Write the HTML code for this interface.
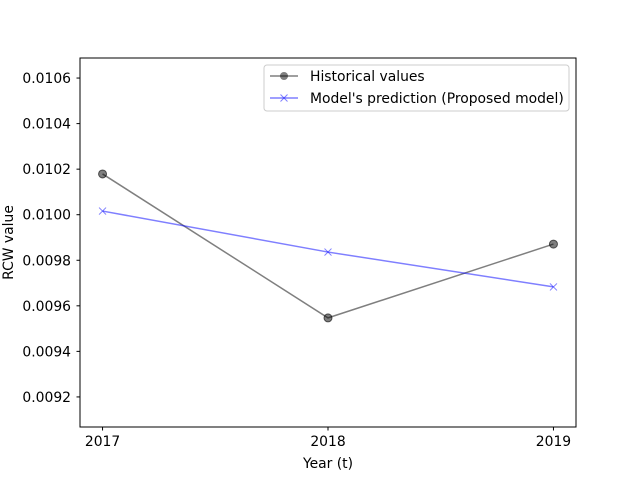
<!DOCTYPE html>
<html><head><meta charset="utf-8"><style>body{margin:0;background:#fff}svg text{font-family:"DejaVu Sans","Liberation Sans",sans-serif;font-size:13.9px}</style></head>
<body>
<svg id="c" width="640" height="480" xmlns="http://www.w3.org/2000/svg"></svg>
<script>
const years = [2017, 2018, 2019];
const historical = [0.010179, 0.009547, 0.009871];
const predicted = [0.010016, 0.009836, 0.009683];
const yTicks = [0.0092, 0.0094, 0.0096, 0.0098, 0.0100, 0.0102, 0.0104, 0.0106];
const yTickLabels = ["0.0092","0.0094","0.0096","0.0098","0.0100","0.0102","0.0104","0.0106"];
const xTickLabels = ["2017","2018","2019"];

const L=80,R=576,T=58,B=427;
const x0=2016.9,x1=2019.1,y0=0.009068,y1=0.010688;
const sx=v=>L+(v-x0)/(x1-x0)*(R-L);
const sy=v=>B-(v-y0)/(y1-y0)*(B-T);
const svg=document.getElementById('c');
const NS='http://www.w3.org/2000/svg';
function mk(tag,attrs,parent){const e=document.createElementNS(NS,tag);for(const k in attrs)e.setAttribute(k,attrs[k]);(parent||svg).appendChild(e);return e;}

const frame=mk('rect',{x:L,y:T,width:R-L,height:B-T,fill:'none',stroke:'#000','stroke-width':1});



yTicks.forEach((v,i)=>{const y=sy(v);
 const t=mk('line',{x1:L-3.5,x2:L,y1:y,y2:y,stroke:'#000'});
 
 
 const tx=mk('text',{x:L-9,y:y+5,'text-anchor':'end'});tx.textContent=yTickLabels[i];
 
 
});
years.forEach((v,i)=>{const x=sx(v);
 const t=mk('line',{x1:x,x2:x,y1:B,y2:B+3.5,stroke:'#000'});
 
 
 const tx=mk('text',{x:x,y:B+19,'text-anchor':'middle'});tx.textContent=xTickLabels[i];
 
 
});
const xt=mk('text',{x:(L+R)/2,y:468,'text-anchor':'middle'});xt.textContent='Year (t)';


const yt=mk('text',{x:13,y:(T+B)/2,'text-anchor':'middle',transform:`rotate(-90 13 ${(T+B)/2})`});yt.textContent='RCW value';



const h=mk('polyline',{points:years.map((v,i)=>sx(v)+','+sy(historical[i])).join(' '),fill:'none',stroke:'#000','stroke-opacity':0.5,'stroke-width':1.5});


years.forEach((v,i)=>{const c=mk('circle',{cx:sx(v),cy:sy(historical[i]),r:4,fill:'#000','fill-opacity':0.5,stroke:'#000','stroke-opacity':0.6});
 
 });
const p=mk('polyline',{points:years.map((v,i)=>sx(v)+','+sy(predicted[i])).join(' '),fill:'none',stroke:'#0000ff','stroke-opacity':0.5,'stroke-width':1.5});


years.forEach((v,i)=>{const x=sx(v),y=sy(predicted[i]);
 const g=mk('path',{d:`M${x-3.5},${y-3.5}L${x+3.5},${y+3.5}M${x-3.5},${y+3.5}L${x+3.5},${y-3.5}`,stroke:'#0000ff','stroke-opacity':0.5,'stroke-width':1});
 
 });

const lg=mk('g',{});


mk('rect',{x:264,y:65,width:305,height:46,rx:3,fill:'#fff','fill-opacity':0.8,stroke:'#ccc'},lg);
mk('line',{x1:270,x2:298,y1:76,y2:76,stroke:'#000','stroke-opacity':0.5,'stroke-width':1.5},lg);
mk('circle',{cx:284,cy:76,r:4,fill:'#000','fill-opacity':0.5},lg);
const t1=mk('text',{x:310,y:81},lg);t1.textContent='Historical values';
mk('line',{x1:270,x2:298,y1:98,y2:98,stroke:'#0000ff','stroke-opacity':0.5,'stroke-width':1.5},lg);
mk('path',{d:'M280.5,94.5L287.5,101.5M280.5,101.5L287.5,94.5',stroke:'#0000ff','stroke-opacity':0.5},lg);
const t2=mk('text',{x:310,y:103},lg);t2.textContent="Model's prediction (Proposed model)";
</script>
</body></html>
